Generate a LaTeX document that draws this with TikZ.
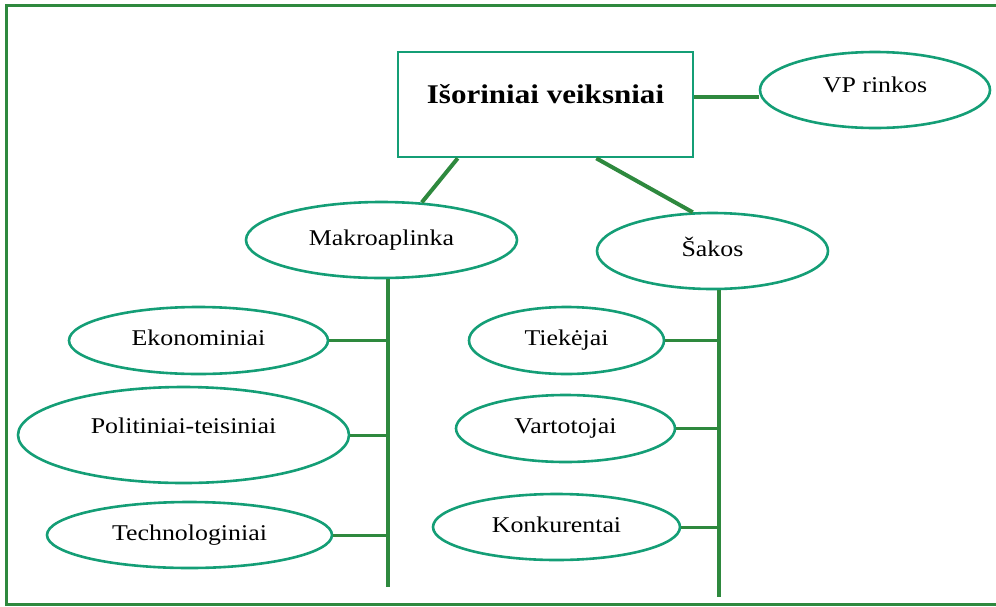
\documentclass[tikz,border=0pt]{standalone}
\usepackage{fontspec}
\setmainfont{Liberation Serif}[FakeStretch=1.15]
\usetikzlibrary{shapes.geometric}
\definecolor{tealline}{RGB}{20,158,118}
\definecolor{grnline}{RGB}{46,137,62}
\begin{document}
\begin{tikzpicture}[x=1pt,y=-1pt,
  ell/.style={ellipse, draw=tealline, line width=2.6pt, inner sep=0pt,
    font=\fontsize{22.5}{27}\selectfont, text height=15pt, text depth=5pt},
  mainbox/.style={draw=tealline, line width=2.6pt, inner sep=0pt,
    minimum width=295pt, minimum height=105pt,
    font=\fontsize{27}{32}\selectfont\bfseries, text height=19pt, text depth=21pt},
  conn/.style={draw=grnline, line width=4pt},
  trunk/.style={draw=grnline, line width=4pt},
  branch/.style={draw=grnline, line width=3pt},
  frame/.style={draw=grnline, line width=3pt}]
\useasboundingbox (0,0) rectangle (996,606);
\draw[frame] (6,5) rectangle (1012,604.5);

\node[mainbox] (main) at (545.5,104.5) {Išoriniai veiksniai};
\node[ell, minimum width=230pt, minimum height=76pt, text depth=11pt] (vp) at (875,90) {VP rinkos};
\node[ell, minimum width=271pt, minimum height=76pt] (makro) at (381.5,240) {Makroaplinka};
\node[ell, minimum width=231pt, minimum height=76pt] (sakos) at (712.5,251) {Šakos};

\node[ell, minimum width=259pt, minimum height=67pt] (eko) at (198.5,340.5) {Ekonominiai};
\node[ell, minimum width=331pt, minimum height=96pt, text depth=18pt] (pol) at (183.5,435) {Politiniai-teisiniai};
\node[ell, minimum width=285pt, minimum height=66pt] (tech) at (189.5,535) {Technologiniai};

\node[ell, minimum width=195pt, minimum height=67pt] (tiek) at (566.5,340.5) {Tiekėjai};
\node[ell, minimum width=219pt, minimum height=67pt] (vart) at (565.5,428.5) {Vartotojai};
\node[ell, minimum width=247pt, minimum height=66pt] (konk) at (556.5,527) {Konkurentai};

\coordinate (lt) at (388,587);
\coordinate (rt) at (719,597);

\draw[conn] ([yshift=7.5pt]main.east) -- ([yshift=7.5pt]main.east -| vp.west);
\draw[conn] ([xshift=61pt]main.south west) -- (makro.43);
\draw[conn] ([xshift=-98pt]main.south east) -- (sakos.117.5);

\draw[trunk] (makro.south -| lt) -- (lt);
\draw[trunk] (sakos.south -| rt) -- (rt);

\draw[branch] (eko.east) -- (eko.east -| lt);
\draw[branch] (pol.east) -- (pol.east -| lt);
\draw[branch] (tech.east) -- (tech.east -| lt);
\draw[branch] (tiek.east) -- (tiek.east -| rt);
\draw[branch] (vart.east) -- (vart.east -| rt);
\draw[branch] (konk.east) -- (konk.east -| rt);
\end{tikzpicture}
\end{document}
